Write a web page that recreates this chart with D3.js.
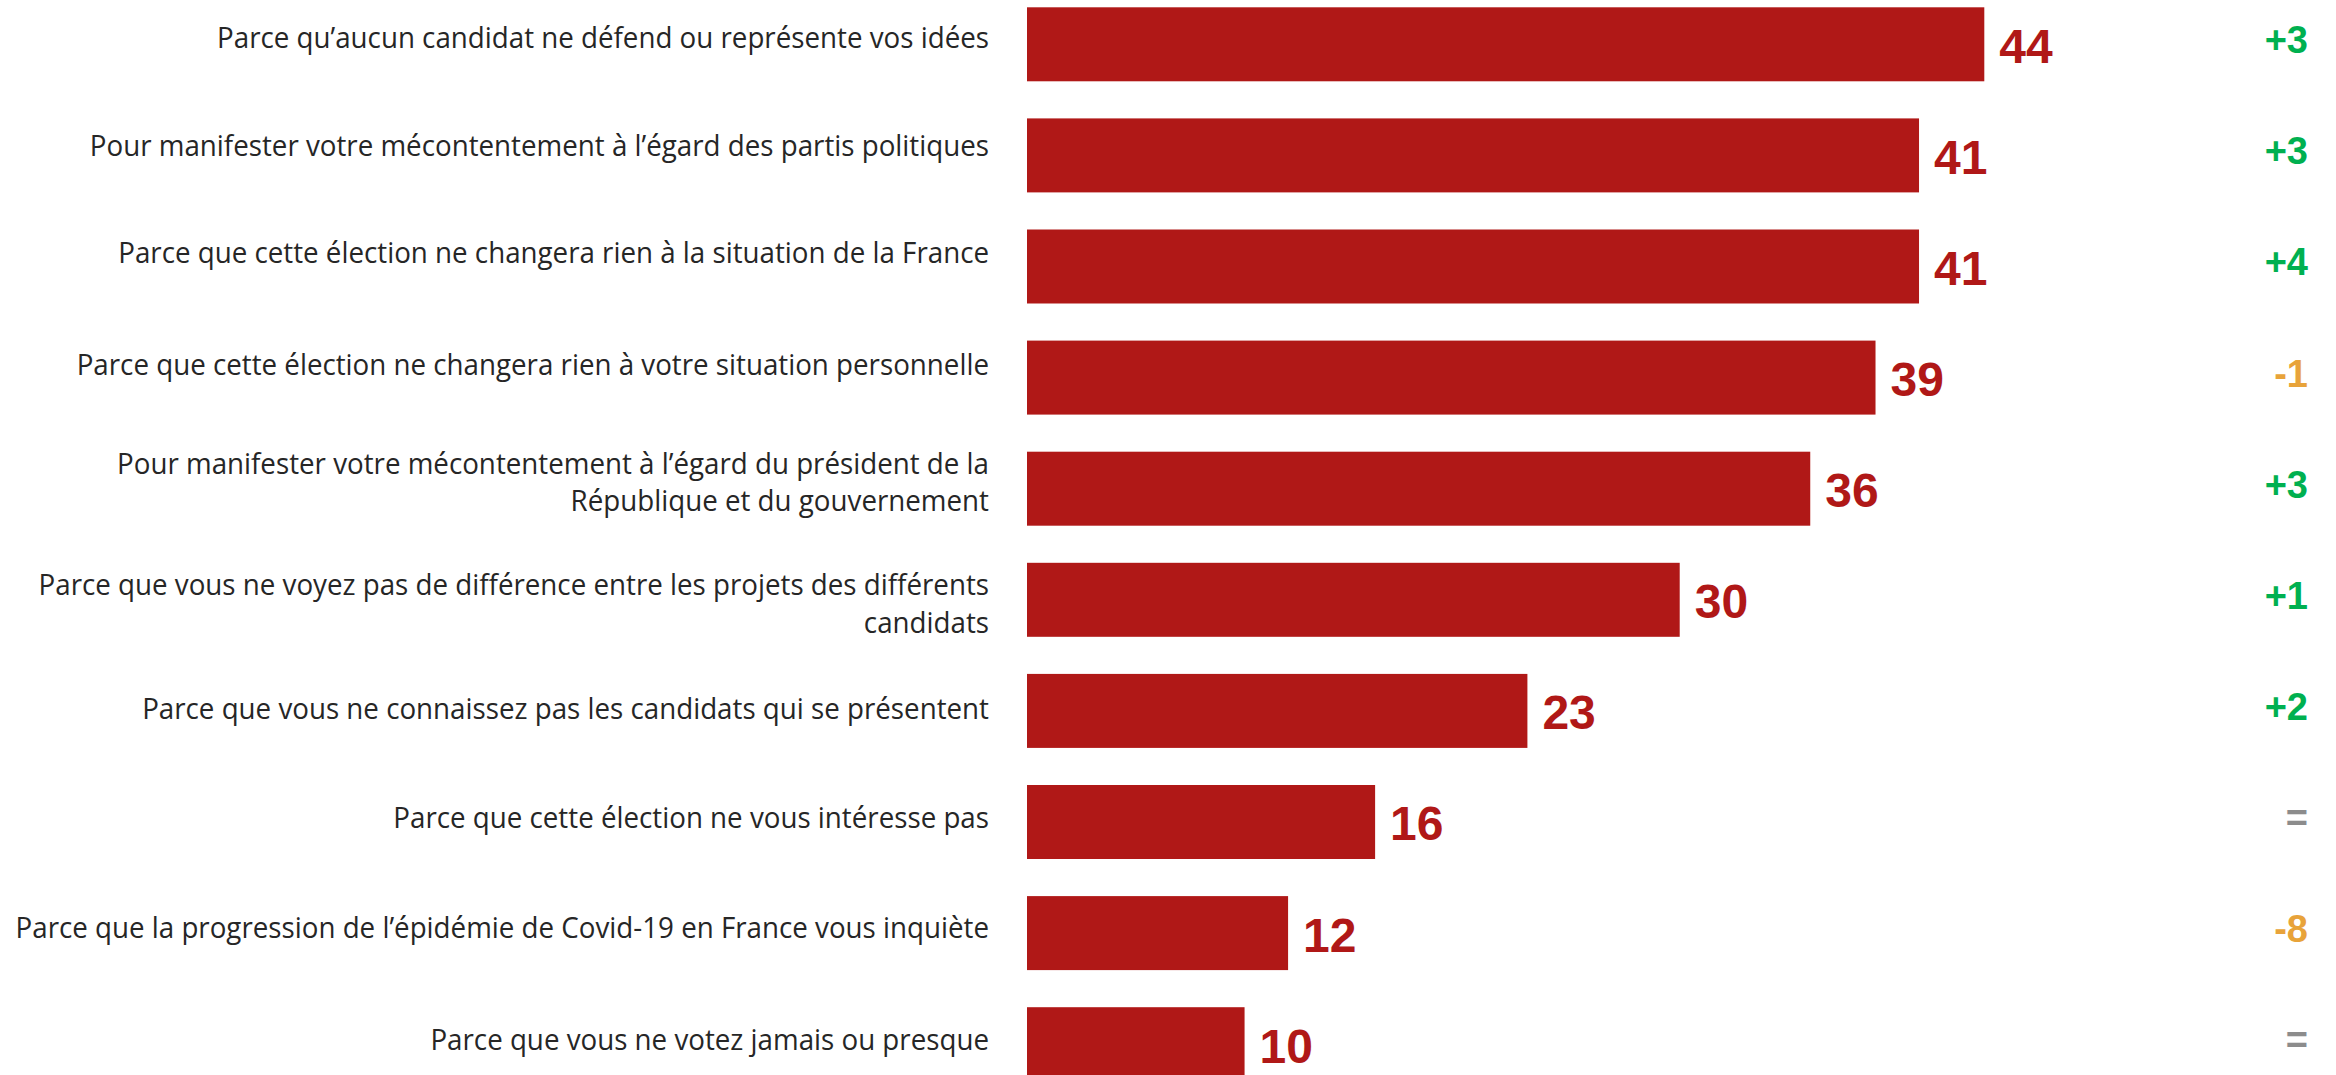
<!DOCTYPE html>
<html>
<head>
<meta charset="utf-8">
<script src="https://cdn.jsdelivr.net/npm/d3@7"></script>
<style>
  html, body { margin: 0; padding: 0; background: #ffffff; overflow: hidden; }
  svg { display: block; }
</style>
</head>
<body>
<svg id="chart" width="2336" height="1075"></svg>
<script>
const categories = [
  "Parce qu\u2019aucun candidat ne défend ou représente vos idées",
  "Pour manifester votre mécontentement à l\u2019égard des partis politiques",
  "Parce que cette élection ne changera rien à la situation de la France",
  "Parce que cette élection ne changera rien à votre situation personnelle",
  "Pour manifester votre mécontentement à l\u2019égard du président de la\nRépublique et du gouvernement",
  "Parce que vous ne voyez pas de différence entre les projets des différents\ncandidats",
  "Parce que vous ne connaissez pas les candidats qui se présentent",
  "Parce que cette élection ne vous intéresse pas",
  "Parce que la progression de l\u2019épidémie de Covid-19 en France vous inquiète",
  "Parce que vous ne votez jamais ou presque"
];
const values = [44, 41, 41, 39, 36, 30, 23, 16, 12, 10];
const changes = ["+3", "+3", "+4", "-1", "+3", "+1", "+2", "=", "-8", "="];

// layout only: small vertical nudges of the category labels, as in the original slide
const labelNudge = [0, -3, -7, -7, 0, 10, 4, 2, 1, 2];

const barColor = "#B01817";
const changeColor = c => c === "=" ? "#8C8C8C" : (c.startsWith("-") ? "#E8A33A" : "#00B050");

const svg = d3.select("#chart");

const x = d3.scaleLinear().domain([0, 44]).range([1027, 1984.3]);
const y = d3.scaleBand()
  .domain(categories)
  .range([7.3, 1081.2])
  .paddingInner(0.334)
  .paddingOuter(0);

const rows = categories.map((c, i) => ({ cat: c, value: values[i], change: changes[i], i }));

// bars
svg.append("g").selectAll("rect")
  .data(rows).join("rect")
  .attr("x", x(0))
  .attr("y", d => y(d.cat))
  .attr("width", d => x(d.value) - x(0))
  .attr("height", y.bandwidth())
  .attr("fill", barColor);

// category labels (slightly condensed to mimic the original narrower face)
const lineGap = 37.5;
const labG = svg.append("g").attr("transform", "translate(989,0) scale(0.925,1)");
const lab = labG.selectAll("text")
  .data(rows).join("text")
  .attr("text-anchor", "end")
  .attr("font-family", "'Open Sans', 'Noto Sans', sans-serif")
  .attr("font-size", 30)
  .attr("fill", "#262626");
lab.each(function(d) {
  const lines = d.cat.split("\n");
  const cy = y(d.cat) + y.bandwidth() / 2 + 4 + labelNudge[d.i];
  const first = cy - (lines.length - 1) * lineGap / 2;
  d3.select(this).selectAll("tspan")
    .data(lines).join("tspan")
    .attr("x", 0)
    .attr("y", (l, j) => first + j * lineGap)
    .text(l => l);
});

// value labels
svg.append("g").selectAll("text")
  .data(rows).join("text")
  .attr("x", d => x(d.value) + 15)
  .attr("y", d => y(d.cat) + y.bandwidth() / 2 + 18.4)
  .attr("font-family", "'Liberation Sans', Arial, sans-serif")
  .attr("font-weight", "bold")
  .attr("font-size", 48)
  .attr("fill", barColor)
  .text(d => d.value);

// change labels
svg.append("g").selectAll("text")
  .data(rows).join("text")
  .attr("x", 2308)
  .attr("y", d => y(d.cat) + y.bandwidth() / 2 + 9)
  .attr("text-anchor", "end")
  .attr("font-family", "'Liberation Sans', Arial, sans-serif")
  .attr("font-weight", "bold")
  .attr("font-size", 38)
  .attr("fill", d => changeColor(d.change))
  .text(d => d.change);
</script>
</body>
</html>
